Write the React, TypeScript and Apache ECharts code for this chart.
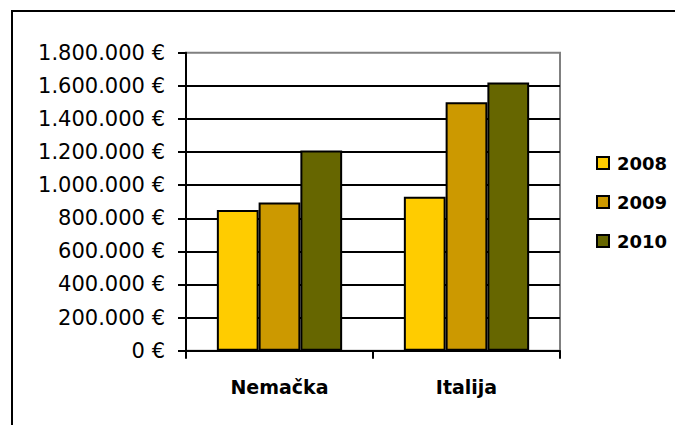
import React, { useEffect, useRef } from "react";
import * as echarts from "echarts";

const categories = ["Nemačka", "Italija"];
const years = ["2008", "2009", "2010"];
const values2008 = [850000, 930000];
const values2009 = [895000, 1500000];
const values2010 = [1210000, 1620000];
const seriesColors = ["#FFCC00", "#CC9900", "#666600"];

const fmt = (v: number) =>
  String(v).replace(/\B(?=(\d{3})+(?!\d))/g, ".") + " €";

export default function App() {
  const ref = useRef<HTMLDivElement>(null);
  useEffect(() => {
    document.body.style.margin = "0";
    const chart = echarts.init(ref.current!, null, { renderer: "svg" });
    const dataSets = [values2008, values2009, values2010];
    chart.setOption({
      animation: false,
      backgroundColor: "#ffffff",
      textStyle: { fontFamily: "DejaVu Sans" },
      graphic: [
        {
          type: "rect",
          shape: { x: 12, y: 11, width: 720, height: 500 },
          style: { fill: "none", stroke: "#000", lineWidth: 2 },
          z: 100,
        },
      ],
      grid: {
        left: 186,
        right: 115,
        top: 52.7,
        bottom: 74.3,
        show: true,
        borderColor: "#808080",
        borderWidth: 2,
        backgroundColor: "transparent",
      },
      legend: {
        orient: "vertical",
        left: 591,
        top: 148,
        itemWidth: 12,
        itemHeight: 12,
        itemGap: 19,
        icon: "rect",
        data: years,
        textStyle: {
          fontFamily: "DejaVu Sans",
          fontWeight: "bold",
          fontSize: 18,
          lineHeight: 20,
          color: "#000",
          padding: [0, 0, 0, 3],
        },
      },
      xAxis: {
        type: "category",
        data: categories,
        axisLine: { lineStyle: { color: "#000", width: 2 } },
        axisTick: { show: true, length: 8, lineStyle: { color: "#000", width: 2 } },
        axisLabel: {
          margin: 27,
          fontFamily: "DejaVu Sans",
          fontWeight: "bold",
          fontSize: 19,
          color: "#000",
        },
      },
      yAxis: {
        type: "value",
        min: 0,
        max: 1800000,
        interval: 200000,
        axisLine: { show: true, lineStyle: { color: "#000", width: 2 } },
        axisTick: { show: true, length: 8, lineStyle: { color: "#000", width: 2 } },
        splitLine: { show: true, showMaxLine: false, lineStyle: { color: "#000", width: 2 } },
        axisLabel: {
          margin: 21,
          fontFamily: "DejaVu Sans",
          fontSize: 21,
          color: "#000",
          formatter: (v: number) => fmt(v),
        },
      },
      series: years.map((y, i) => ({
        name: y,
        type: "bar",
        data: dataSets[i],
        barGap: "0%",
        barCategoryGap: "33%",
        itemStyle: {
          color: seriesColors[i],
          borderColor: "#000",
          borderWidth: 2,
        },
      })),
    });
    return () => chart.dispose();
  }, []);
  return <div ref={ref} style={{ width: 675, height: 425 }} />;
}
